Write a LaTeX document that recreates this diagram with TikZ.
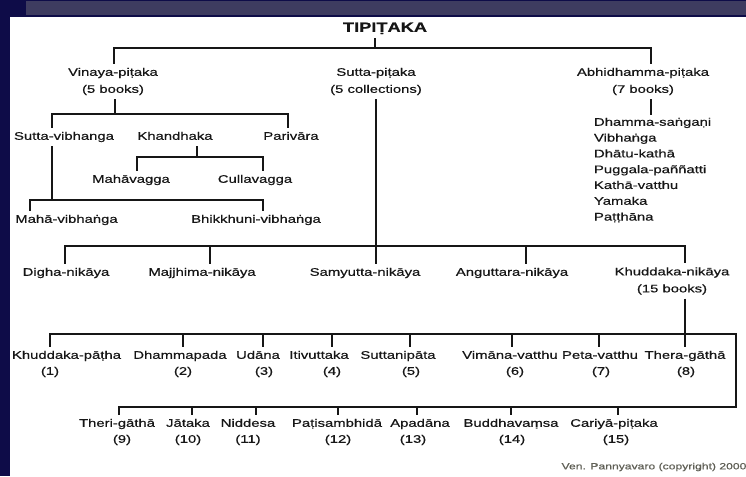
\documentclass[tikz,border=0pt]{standalone}
\usepackage{fontspec}
\setmainfont{Liberation Sans}[FakeStretch=1.35, FakeBold=0.5]
\definecolor{navy}{RGB}{14,12,72}
\definecolor{slate}{RGB}{62,60,96}
\definecolor{ink}{RGB}{22,22,22}
\definecolor{cpy}{RGB}{95,95,85}
\tikzset{
  lbl/.style={inner sep=0pt, outer sep=4pt, text=ink, font=\fontsize{11}{16}\selectfont, text height=8pt, text depth=2.4pt},
  lbltwo/.style={inner sep=0pt, outer sep=4pt, text=ink, align=center, font=\fontsize{11}{17}\selectfont},
  lbllist/.style={inner sep=0pt, outer sep=3pt, text=ink, align=left, anchor=west, font=\fontsize{11}{15.8}\selectfont},
  ln/.style={line width=2.2pt, draw=ink},
}
\begin{document}
\begin{tikzpicture}[x=1pt,y=-1pt]
\useasboundingbox (0,0) rectangle (746,476);
% frame
\fill[navy] (0,0) rectangle (746,476);
\fill[white] (10,17) rectangle (746,476);
\fill[slate] (26,1) rectangle (746,15);

% ---------- nodes ----------
\node[lbl, font=\bfseries\fontsize{13.5}{16}\selectfont] (tip) at (385,29) {TIPIṬAKA};
\node[lbltwo] (vin) at (113,81.5) {Vinaya-piṭaka\\(5 books)};
\node[lbltwo] (sut) at (376,81.5) {Sutta-piṭaka\\(5 collections)};
\node[lbltwo] (abh) at (643,81.5) {Abhidhamma-piṭaka\\(7 books)};
\node[lbllist] (abl) at (591,170) {Dhamma-saṅgaṇi\\Vibhaṅga\\Dhātu-kathā\\Puggala-paññatti\\Kathā-vatthu\\Yamaka\\Paṭṭhāna};

\node[lbl] (svb) at (64,137) {Sutta-vibhanga};
\node[lbl] (khd) at (175,137) {Khandhaka};
\node[lbl] (par) at (291,137) {Parivāra};
\node[lbl] (mhv) at (131,180) {Mahāvagga};
\node[lbl] (cul) at (255,180) {Cullavagga};
\node[lbl] (mvb) at (66.5,220) {Mahā-vibhaṅga};
\node[lbl] (bvb) at (256,220) {Bhikkhuni-vibhaṅga};

\node[lbl] (dig) at (66,273) {Digha-nikāya};
\node[lbl] (maj) at (202,273) {Majjhima-nikāya};
\node[lbl] (sam) at (365,273) {Samyutta-nikāya};
\node[lbl] (ang) at (512,273) {Anguttara-nikāya};
\node[lbltwo] (khu) at (672,281) {Khuddaka-nikāya\\(15 books)};

% row 1
\node[lbl] (kp) at (66.5,356) {Khuddaka-pāṭha};
\node[lbl] (kpn) at (50,372) {(1)};
\node[lbl] (dp) at (180,356) {Dhammapada};
\node[lbl] (dpn) at (183,372) {(2)};
\node[lbl] (ud) at (258,356) {Udāna};
\node[lbl] (udn) at (264,372) {(3)};
\node[lbl] (it) at (319,356) {Itivuttaka};
\node[lbl] (itn) at (332,372) {(4)};
\node[lbl] (sn) at (398,356) {Suttanipāta};
\node[lbl] (snn) at (411,372) {(5)};
\node[lbl] (vv) at (510,356) {Vimāna-vatthu};
\node[lbl] (vvn) at (515,372) {(6)};
\node[lbl] (pv) at (600,356) {Peta-vatthu};
\node[lbl] (pvn) at (601,372) {(7)};
\node[lbl] (tg) at (685,356) {Thera-gāthā};
\node[lbl] (tgn) at (686,372) {(8)};

% row 2
\node[lbl] (ti) at (117,424) {Theri-gāthā};
\node[lbl] (tin) at (122,440) {(9)};
\node[lbl] (jt) at (188,424) {Jātaka};
\node[lbl] (jtn) at (188,440) {(10)};
\node[lbl] (nd) at (248,424) {Niddesa};
\node[lbl] (ndn) at (248,440) {(11)};
\node[lbl] (ps) at (337,424) {Paṭisambhidā};
\node[lbl] (psn) at (338,440) {(12)};
\node[lbl] (ap) at (420,424) {Apadāna};
\node[lbl] (apn) at (413,440) {(13)};
\node[lbl] (bv) at (511,424) {Buddhavaṃsa};
\node[lbl] (bvn) at (512,440) {(14)};
\node[lbl] (cp) at (614,424) {Cariyā-piṭaka};
\node[lbl] (cpn) at (616,440) {(15)};

\node[inner sep=0pt, text=cpy, font=\fontsize{9}{11}\selectfont] (cr) at (654,467) {Ven. Pannyavaro (copyright) 2000};

% ---------- junction coordinates ----------
\coordinate (tJ) at (375,48);
\coordinate (tL) at (114,48);
\coordinate (tR) at (651,48);
\coordinate (vJ) at (115,114);
\coordinate (vL) at (52,114);
\coordinate (vR) at (288,114);
\coordinate (kJ) at (197,157);
\coordinate (kL) at (137,157);
\coordinate (kR) at (263,157);
\coordinate (sJ) at (52,200);
\coordinate (sL) at (30,200);
\coordinate (sR) at (263,200);
\coordinate (nJ) at (376,246);
\coordinate (nL) at (65,246);
\coordinate (nM) at (210,246);
\coordinate (nA) at (526,246);
\coordinate (nR) at (685,246);
\coordinate (aL) at (50,334);
\coordinate (aR) at (736,334);
\coordinate (bL) at (119,407);
\coordinate (bR) at (736,407);

% ---------- connectors ----------
\draw[ln] (tip.south -| tJ) -- (tJ);
\draw[ln] (vin.north -| tL) -- (tL) -- (tR) -- (abh.north -| tR);
\draw[ln] (abh.south -| tR) -- (abl.north -| tR);

\draw[ln] (vin.south -| vJ) -- (vJ);
\draw[ln] (svb.north -| vL) -- (vL) -- (vR) -- (par.north -| vR);
\draw[ln] (khd.south -| kJ) -- (kJ);
\draw[ln] (mhv.north -| kL) -- (kL) -- (kR) -- (cul.north -| kR);
\draw[ln] (svb.south -| sJ) -- (sJ);
\draw[ln] (mvb.north -| sL) -- (sL) -- (sR) -- (bvb.north -| sR);

\draw[ln] (sut.south -| nJ) -- (sam.north -| nJ);
\draw[ln] (dig.north -| nL) -- (nL) -- (nR) -- (khu.north -| nR);
\draw[ln] (nM) -- (maj.north -| nM);
\draw[ln] (nA) -- (ang.north -| nA);

\draw[ln] (khu.south -| nR) -- (tg.north -| nR);
\draw[ln] (kp.north -| aL) -- (aL) -- (aR) -- (bR) -- (bL) -- (ti.north -| bL);
\foreach \n/\x in {dp/183, ud/263, it/332, sn/410, vv/512, pv/599}{
  \coordinate (a-\n) at (\x,334);
  \draw[ln] (a-\n) -- (\n.north -| a-\n);
}
\foreach \n/\x in {jt/192, nd/256, ps/338, ap/417, bv/511, cp/618}{
  \coordinate (b-\n) at (\x,407);
  \draw[ln] (b-\n) -- (\n.north -| b-\n);
}
\end{tikzpicture}
\end{document}
